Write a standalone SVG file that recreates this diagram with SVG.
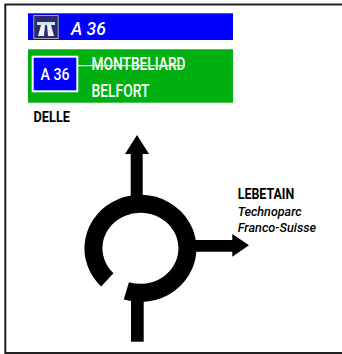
<svg xmlns="http://www.w3.org/2000/svg" width="342" height="354" viewBox="0 0 342 354">
<style>
text{font-family:"Roboto","Liberation Sans",sans-serif}
.w{fill:#fff;font-weight:500}
.b{fill:#000;font-weight:700;font-size:14px}
.i{fill:#000;font-style:italic;font-weight:500;font-size:13px}
</style>
<rect width="342" height="354" fill="#fff"/>
<path id="frame" d="M342 4.500H5.300V353H342" fill="none" stroke="#222" stroke-width="2"/>
<g id="motorway-sign">
<rect x="28" y="13.300" width="205" height="26.700" fill="#0000ff"/>
<rect x="33.800" y="15.500" width="24.400" height="23" fill="#2a2a70" stroke="#aaa" stroke-width="1"/>
<path d="M37 22H55V25H37Z" fill="#c8e8ee"/>
<path d="M41 25H45L44 36H38ZM47 25H51L54 36H48Z" fill="#f0f0f6"/>
<text x="71" y="35" class="w" font-size="19" font-style="italic" textLength="35" lengthAdjust="spacingAndGlyphs">A 36</text>
</g>
<g id="direction-sign">
<rect x="28" y="49.300" width="205" height="53.400" fill="#00b010"/>
<rect x="32.700" y="56.700" width="44.600" height="34.600" fill="#0000ff" stroke="#fff" stroke-width="2"/>
<text x="40.500" y="80" class="w" font-size="16" textLength="29" lengthAdjust="spacingAndGlyphs">A 36</text>
<line x1="78" y1="65.700" x2="185" y2="65.700" stroke="#e8f4e8" stroke-width="1.200"/>
<text x="91.500" y="69.500" class="w" font-size="17.500" textLength="94" lengthAdjust="spacingAndGlyphs">MONTBELIARD</text>
<text x="91.500" y="96.700" class="w" font-size="17.500" textLength="58" lengthAdjust="spacingAndGlyphs">BELFORT</text>
</g>
<g id="label-delle"><text x="33.500" y="121.700" class="b" textLength="36.500" lengthAdjust="spacingAndGlyphs">DELLE</text></g>
<g id="label-lebetain">
<text x="237.700" y="199" class="b" textLength="56.500" lengthAdjust="spacingAndGlyphs">LEBETAIN</text>
<text x="237.700" y="216" class="i" textLength="64" lengthAdjust="spacingAndGlyphs">Technoparc</text>
<text x="237.700" y="232" class="i" textLength="78.500" lengthAdjust="spacingAndGlyphs">Franco-Suisse</text>
</g>
<g id="connectors">
<path d="M107.300 279.900A47 44.500 0 1 1 126.350 290.800" fill="none" stroke="#000" stroke-width="18"/>
<path d="M130.700 200V154H125L137 135L149 154H142.700V200Z" fill="#000"/>
<path d="M192 240H232.300V234L249 245.300L232.300 256.700V251.700H192Z" fill="#000"/>
<rect x="131" y="297" width="12.700" height="44.700" fill="#000"/>
</g>
</svg>
